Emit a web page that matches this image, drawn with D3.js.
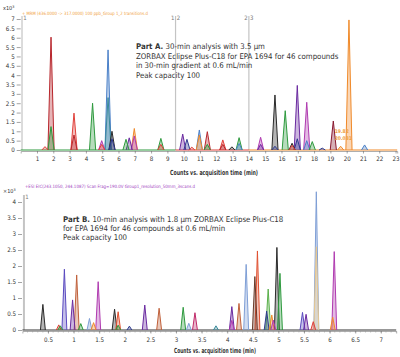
<!DOCTYPE html>
<html><head><meta charset="utf-8">
<script src="https://cdn.jsdelivr.net/npm/d3@7"></script>
<style>
html,body{margin:0;padding:0;background:#fff;}
svg{display:block;}
text{font-family:"Liberation Sans Narrow","DejaVu Sans Condensed","Arial Narrow",sans-serif;}
</style></head>
<body><svg id="c" width="400" height="357"></svg>
<script>
// ---------- DATA ----------
// Part A: peaks [time (min), height (x10^3 counts), colour key]
const peaksA = [
 [1.49,0.18,"red"],[1.86,6.03,"dred"],[1.86,1.25,"green"],
 [3.27,1.97,"red"],[3.27,0.8,"dred"],
 [4.41,2.5,"green"],
 [4.97,0.5,"magenta"],[4.97,0.3,"red"],
 [5.36,5.35,"blue"],[5.36,2.8,"teal"],
 [5.6,1.0,"black"],[5.6,0.6,"navy"],
 [6.46,0.57,"green"],[6.66,0.65,"purple"],
 [6.97,1.15,"orange"],[6.97,0.75,"magenta"],
 [8.6,0.62,"green"],[8.6,0.3,"red"],
 [9.94,0.85,"purple"],[10.2,0.57,"navy"],[10.5,0.15,"red"],
 [10.96,1.07,"blue"],[10.96,0.8,"orange"],
 [11.45,0.98,"dred"],[11.45,0.3,"green"],
 [12.4,0.54,"red"],[12.4,0.3,"dred"],[12.96,0.17,"black"],
 [13.4,0.66,"green"],[13.4,0.35,"blue"],
 [14.72,0.68,"magenta"],[14.72,0.3,"purple"],
 [15.6,2.94,"black"],[15.6,0.2,"navy"],
 [16.23,2.1,"green"],[16.65,0.36,"black"],[16.65,0.25,"red"],
 [16.97,3.45,"purple"],[16.97,0.6,"navy"],
 [17.55,2.55,"magenta"],[17.55,0.5,"blue"],
 [17.89,0.45,"green"],[18.5,0.1,"navy"],
 [19.18,1.55,"maroon"],[19.63,0.2,"orange"],
 [20.14,6.95,"orange"],[21.1,0.27,"blue"]
];
// Part A baseline segments [start, end, colour]
const baseA = [[0,9.5,"green"],[9.5,14,"red"],[14,23.1,"orange"]];
// Part A segment markers [time, left label, right label]
const markersA = [[0.08,"","1"],[9.5,"1","2"],[14.0,"2","3"]];
const yTicksA = [0,0.5,1,1.5,2,2.5,3,3.5,4,4.5,5,5.5,6,6.5,7];
const xTicksA = d3.range(1,24);

// Part B peaks
const peaksB = [
 [0.40,0.80,"black"],[0.71,0.16,"red"],[0.74,0.13,"green"],
 [0.82,1.9,"bpurple"],[0.98,0.94,"purple"],[1.06,1.72,"brown"],
 [1.14,0.2,"green"],[1.31,0.36,"lblue"],[1.39,0.23,"orange"],
 [1.48,1.51,"magenta"],[1.80,0.65,"black"],[1.87,0.57,"redor"],[1.87,0.15,"green"],
 [2.09,0.12,"navy"],[2.39,0.78,"purple"],[2.67,0.68,"brown"],
 [3.14,0.71,"green"],[3.25,0.21,"lblue"],[3.37,0.54,"crimson"],
 [3.78,0.13,"teal"],[4.09,0.73,"purple"],[4.09,0.3,"magenta"],
 [4.23,0.83,"brown"],[4.37,2.05,"lblue"],[4.54,1.67,"dbrown"],
 [4.59,2.47,"redor"],[4.77,0.59,"navy"],[4.80,1.28,"lgreen"],
 [4.87,0.47,"orange"],[4.90,0.31,"magenta"],[4.97,2.58,"black"],
 [5.03,1.77,"green"],[5.47,0.55,"bpurple"],[5.54,0.49,"purple"],
 [5.68,0.26,"red"],[5.74,4.32,"lblue"],[5.74,2.6,"beige"],
 [6.06,0.4,"orange"],[6.09,2.45,"magenta"]
];
const markersB = [[0.03,"","1"]];
const yTicksB = [0,0.5,1,1.5,2,2.5,3,3.5,4];
const xTicksB = [0.5,1,1.5,2,2.5,3,3.5,4,4.5,5,5.5,6,6.5,7];
const xMinorB = d3.range(1,74).map(i=>i/10);

const colors = {
 red:"#e0403a", dred:"#b8272d", green:"#2e9a3e", lgreen:"#5ab04a", blue:"#4a80c8",
 teal:"#3a8a9a", black:"#2a2a2a", navy:"#2e3a8e", purple:"#6a2aa0",
 magenta:"#b03ab0", orange:"#f08a2a", maroon:"#8a1a30", bpurple:"#5a4ac0",
 brown:"#c0603a", lblue:"#7f9fd6", redor:"#e05030", crimson:"#c02a6a",
 dbrown:"#6a3a2a", beige:"#e8c890"
};

// ---------- DRAW ----------
const svg = d3.select("#c");
const txt = "#333";

function panel(o){
  const g = svg.append("g");
  const x = d3.scaleLinear().domain(o.xd).range(o.xr);
  const y = d3.scaleLinear().domain(o.yd).range(o.yr);
  const ya = g.append("g").attr("transform",`translate(${o.yAxisX},0)`)
    .call(d3.axisLeft(y).tickValues(o.yTicks).tickSize(4).tickPadding(2).tickFormat(d3.format("~g")));
  ya.select(".domain").remove();
  ya.selectAll("line").attr("stroke","#666").attr("stroke-width",0.6);
  ya.selectAll("text").attr("font-size",6.2).attr("fill",txt);
  if(o.xMinor){
    g.append("g").selectAll("line").data(o.xMinor).join("line")
      .attr("x1",d=>x(d)).attr("x2",d=>x(d))
      .attr("y1",y(0)+1).attr("y2",y(0)+2.5).attr("stroke","#888").attr("stroke-width",0.5);
  }
  const xa = g.append("g").attr("transform",`translate(0,${y(0)+1})`)
    .call(d3.axisBottom(x).tickValues(o.xTicks).tickSize(2.5).tickPadding(o.xPad).tickFormat(d3.format("~g")));
  xa.select(".domain").attr("stroke","#999").attr("stroke-width",0.8);
  xa.selectAll("line").attr("stroke","#666").attr("stroke-width",0.6);
  xa.selectAll("text").attr("font-size",6.2).attr("fill",txt);
  o.markers.forEach(m=>{
    g.append("line").attr("x1",x(m[0])).attr("x2",x(m[0]))
      .attr("y1",o.markTop).attr("y2",y(0))
      .attr("stroke","#c4c4c4").attr("stroke-width",o.markW);
    if(m[1]) g.append("text").attr("x",x(m[0])-1.2).attr("y",o.markTop+4)
      .attr("text-anchor","end").attr("font-size",6).attr("fill","#777").text(m[1]);
    if(m[2]) g.append("text").attr("x",x(m[0])+1.2).attr("y",o.markTop+4)
      .attr("font-size",6).attr("fill","#777").text(m[2]);
  });
  o.base.forEach(b=>{
    g.append("line").attr("x1",x(b[0])).attr("x2",x(b[1]))
      .attr("y1",y(0)).attr("y2",y(0)).attr("stroke",colors[b[2]]||b[2]).attr("stroke-width",1.1);
  });
  const area = d3.area().x(d=>x(d[0])).y0(y(0)).y1(d=>y(d[1]));
  const line = d3.line().x(d=>x(d[0])).y(d=>y(d[1]));
  const sorted = o.peaks.slice().sort((a,b)=>b[1]-a[1]);
  sorted.forEach(p=>{
    const pts = [[p[0]-o.w,0],[p[0],p[1]],[p[0]+o.w,0]];
    g.append("path").attr("d",area(pts)).attr("fill",colors[p[2]]).attr("fill-opacity",0.35);
    g.append("path").attr("d",line(pts)).attr("fill","none")
      .attr("stroke",colors[p[2]]).attr("stroke-width",1).attr("stroke-linejoin","round");
  });
  return {x,y,g};
}

const A = panel({xd:[0,23.1], xr:[20.7,397.2], yd:[0,7], yr:[150,19], yAxisX:20.7,
  yTicks:yTicksA, xTicks:xTicksA, xPad:3.5, markers:markersA, markTop:16, markW:1.2,
  base:baseA, peaks:peaksA, w:0.19});
const B = panel({xd:[0,7.3], xr:[22.4,396.2], yd:[0,4], yr:[330,202], yAxisX:22,
  yTicks:yTicksB, xTicks:xTicksB, xMinor:xMinorB, xPad:4.5, markers:markersB, markTop:195, markW:2,
  base:[[0,7.3,"#333"]], peaks:peaksB, w:0.048});

// ---------- TEXT ----------
function t(xp,yp,s,size,opts={}){
  const e = svg.append("text").attr("x",xp).attr("y",yp).attr("font-size",size)
    .attr("fill",opts.fill||txt).text(s);
  if(opts.bold) e.attr("font-weight","bold");
  if(opts.len) e.attr("textLength",opts.len).attr("lengthAdjust","spacingAndGlyphs");
  return e;
}
const m1 = t(3,10,"x10",5.5); m1.append("tspan").attr("dy",-2).attr("font-size",3.8).text("3");
const m2 = t(3,193,"\u00d710",5.5); m2.append("tspan").attr("dy",-2).attr("font-size",3.8).text("3");

t(22,14.5,"+ MRM (436.0000 -> 317.0000) 100 ppb_Group 1_2 transitions.d",4.5,{fill:"#f0a040",len:126});
t(25,187.5,"+ESI EIC(243.1050, 244.1087) Scan Frag=190.0V Group1_resolution_50mm_3scans.d",4.5,{fill:"#a040c0",len:170});

// paragraph lines: [x, y, bold lead, text]
const paraA = [
 [136,48.8,"Part A. ","30-min analysis with 3.5 \u00b5m"],
 [136,58.6,"","ZORBAX Eclipse Plus-C18 for EPA 1694 for 46 compounds"],
 [136,68.4,"","in 30-min gradient at 0.6 mL/min"],
 [136,78.2,"","Peak capacity 100"]
];
const paraB = [
 [63,221.5,"Part B. ","10-min analysis with 1.8 \u00b5m ZORBAX Eclipse Plus-C18"],
 [63,230.8,"","for EPA 1694 for 46 compounds at 0.6 mL/min"],
 [63,240.1,"","Peak capacity 100"]
];
paraA.concat(paraB).forEach(p=>{
  const e = svg.append("text").attr("x",p[0]).attr("y",p[1]).attr("font-size",7.8).attr("fill",txt);
  if(p[2]) e.append("tspan").attr("font-weight","bold").text(p[2]);
  e.append("tspan").text(p[3]);
});

t(A.x(19.2)+1,133,"19.82",5,{fill:"#f0a040",bold:true});
t(A.x(19.2)+1,139.5,"20.031",5,{fill:"#f0a040",bold:true});

t(170,175,"Counts vs. acquisition time (min)",7,{bold:true,len:88});
t(174,353,"Counts vs. acquisition time (min)",7,{bold:true,len:82});
</script></body></html>
